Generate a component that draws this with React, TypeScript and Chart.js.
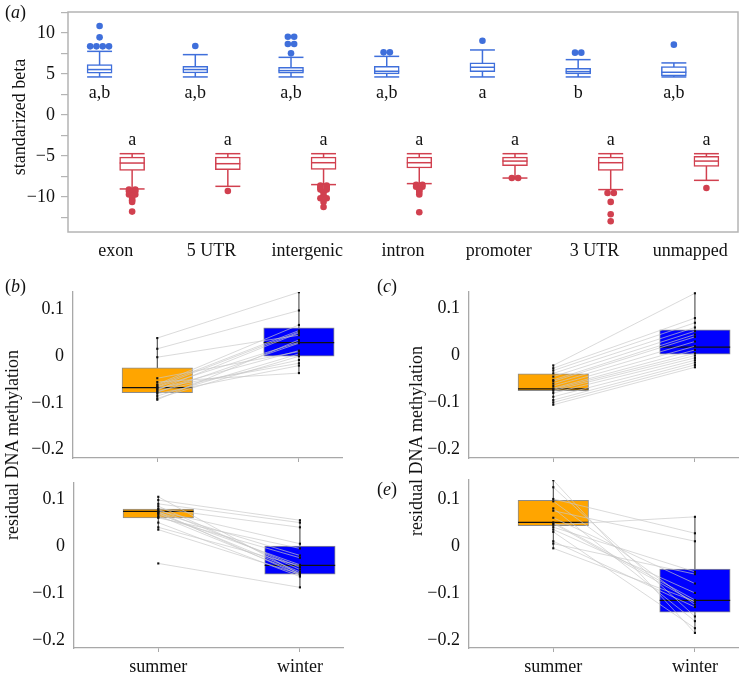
import React, { useEffect, useRef } from 'react';
import { Chart, registerables } from 'chart.js';

Chart.register(...registerables);

const FONT = '"Liberation Serif", "Times New Roman", serif';
const TEXT = '#111111';

// ---------- Panel (a) data ----------
const regions = ['exon', '5 UTR', 'intergenic', 'intron', 'promoter', '3 UTR', 'unmapped'];
const yTicksA = [-12.5, -10, -7.5, -5, -2.5, 0, 2.5, 5, 7.5, 10, 12.5];
// [lower whisker, q1, median, q3, upper whisker]
const blueStats = [
  [4.64, 5.09, 5.54, 6.14, 7.76],
  [4.64, 5.13, 5.54, 5.94, 7.36],
  [4.64, 5.09, 5.41, 5.82, 7.03],
  [4.64, 5.01, 5.33, 5.94, 7.15],
  [4.64, 5.29, 5.82, 6.35, 7.93],
  [4.64, 5.01, 5.29, 5.7, 6.75],
  [4.64, 4.77, 5.21, 5.9, 6.35],
];
const redStats = [
  [-9.02, -6.75, -5.86, -5.13, -4.72],
  [-8.7, -6.67, -5.94, -5.13, -4.72],
  [-8.49, -6.63, -5.82, -5.13, -4.72],
  [-8.37, -6.47, -5.82, -5.13, -4.72],
  [-7.69, -6.18, -5.62, -5.13, -4.72],
  [-9.1, -6.75, -5.82, -5.13, -4.72],
  [-7.97, -6.27, -5.62, -5.05, -4.72],
];
const blueOutliers = [
  [10.85, 9.47, 8.37, 8.37, 8.37, 8.37],
  [8.42],
  [9.55, 9.55, 8.66, 8.66, 7.52],
  [7.64, 7.64],
  [9.06],
  [7.6, 7.6],
  [8.58],
];
const redOutliers = [
  [-9.1, -9.1, -9.3, -9.3, -9.5, -9.7, -9.7, -9.9, -10.2, -10.4, -10.6, -11.78],
  [-9.27],
  [-8.6, -8.6, -8.85, -8.85, -9.1, -9.1, -9.4, -9.8, -10.15, -10.15, -10.6, -11.22],
  [-8.5, -8.5, -8.75, -8.75, -9.0, -9.2, -9.4, -9.7, -11.86],
  [-7.69, -7.69],
  [-9.51, -9.51, -10.6, -12.1, -12.96],
  [-8.9],
];
const blueLetters = ['a,b', 'a,b', 'a,b', 'a,b', 'a', 'b', 'a,b'];
const redLetters = ['a', 'a', 'a', 'a', 'a', 'a', 'a'];

// ---------- Panels (b)-(e) data ----------
const seasons = ['summer', 'winter'];
const yTicksLow = [-0.2, -0.1, 0, 0.1];

const summerB = [0.039, 0.016, -0.002, -0.047, -0.055, -0.06, -0.062, -0.065, -0.066, -0.068, -0.07, -0.072, -0.075, -0.077, -0.08, -0.085, -0.09, -0.093];
const winterB = [0.137, 0.098, 0.045, 0.01, -0.036, 0.067, 0.055, 0.052, 0.03, -0.015, 0.012, 0.05, -0.008, 0.028, -0.02, 0.005, 0.0, 0.035];
const boxSummerB = [-0.093, -0.078, -0.067, -0.025, 0.039];
const boxWinterB = [-0.036, 0.0, 0.029, 0.061, 0.137];

const summerC = [-0.021, -0.027, -0.032, -0.038, -0.045, -0.052, -0.055, -0.06, -0.065, -0.07, -0.072, -0.075, -0.08, -0.088, -0.095, -0.1, -0.105];
const winterC = [0.133, 0.08, 0.07, 0.06, 0.052, 0.045, 0.04, 0.03, 0.02, 0.012, 0.005, 0.0, -0.005, -0.01, -0.015, -0.02, -0.025];
const boxSummerC = [-0.105, -0.075, -0.071, -0.039, -0.021];
const boxWinterC = [-0.025, 0.003, 0.018, 0.055, 0.133];

const summerD = [0.105, 0.098, 0.09, 0.085, 0.08, 0.078, 0.075, 0.073, 0.072, 0.07, 0.068, 0.065, 0.062, 0.06, 0.05, 0.04, 0.035, -0.037];
const winterD = [-0.06, 0.055, 0.05, -0.05, 0.04, -0.045, 0.005, -0.062, -0.02, -0.055, -0.04, -0.058, -0.025, -0.005, -0.065, -0.042, -0.06, -0.088];
const boxSummerD = [0.035, 0.06, 0.074, 0.079, 0.105];
const boxWinterD = [-0.088, -0.06, -0.041, 0.0, 0.055];

const summerE = [0.14, 0.125, 0.1, 0.095, 0.08, 0.075, 0.06, 0.05, 0.048, 0.045, 0.04, 0.035, 0.03, 0.01, 0.005, -0.005];
const winterE = [-0.185, -0.15, 0.027, -0.125, -0.16, 0.01, -0.08, -0.115, -0.12, 0.062, -0.055, -0.1, -0.175, -0.13, -0.06, -0.118];
const boxSummerE = [-0.005, 0.043, 0.05, 0.097, 0.14];
const boxWinterE = [-0.186, -0.141, -0.116, -0.049, 0.062];

// ---------- styling ----------
const BLUE = '#3f6fdb';
const RED = '#d1404f';
const AXIS_GRAY = '#a8a8a8';
const ORANGE = '#ffa500';
const DEEP_BLUE = '#0000ff';

const fmt = (v: number) => {
  const r = Math.round(v * 1000) / 1000;
  return r < 0 ? '\u2212' + String(Math.abs(r)) : String(r);
};

function seg(p1: number[], p2: number[], color: string, width: number, order: number) {
  return {
    type: 'line',
    data: [{ x: p1[0], y: p1[1] }, { x: p2[0], y: p2[1] }],
    borderColor: color,
    borderWidth: width,
    pointRadius: 0,
    pointHoverRadius: 0,
    tension: 0,
    fill: false,
    order,
  };
}

function dodge(lists: number[][], off: number, step: number) {
  const pts: { x: number; y: number }[] = [];
  lists.forEach((vals, i) => {
    const counts = new Map<number, number>();
    vals.forEach((v) => counts.set(v, (counts.get(v) || 0) + 1));
    const seen = new Map<number, number>();
    vals.forEach((v) => {
      const n = counts.get(v)!;
      const k = seen.get(v) || 0;
      seen.set(v, k + 1);
      pts.push({ x: i + off + (k - (n - 1) / 2) * step, y: v });
    });
  });
  return pts;
}

// ---------- Panel (a) config ----------
const A = { w: 742, h: 272, left: 68, top: 12, right: 2, bottom: 232 };
const A_XMIN = -0.5;
const A_XMAX = 6.5;
const A_PX = (A.w - A.left - A.right) / (A_XMAX - A_XMIN);
const A_BOX = 25;
const A_HW = A_BOX / 2 / A_PX;
const A_OFF = 0.17;

function buildA(): any {
  const datasets: any[] = [];
  const pushBox = (cx: number, st: number[], color: string) => {
    datasets.push(seg([cx, st[0]], [cx, st[4]], color, 1.5, 6));
    datasets.push({
      type: 'bar',
      data: [{ x: cx, y: [st[1], st[3]] }],
      backgroundColor: '#ffffff',
      borderColor: color,
      borderWidth: 1.5,
      borderSkipped: false,
      barThickness: A_BOX,
      grouped: false,
      order: 5,
    });
    datasets.push(seg([cx - A_HW, st[0]], [cx + A_HW, st[0]], color, 1.5, 3));
    datasets.push(seg([cx - A_HW, st[4]], [cx + A_HW, st[4]], color, 1.5, 3));
    datasets.push(seg([cx - A_HW, st[2]], [cx + A_HW, st[2]], color, 1.5, 3));
  };
  regions.forEach((_, i) => {
    pushBox(i - A_OFF, blueStats[i], BLUE);
    pushBox(i + A_OFF, redStats[i], RED);
  });
  const step = 6.3 / A_PX;
  datasets.push({
    type: 'scatter',
    data: dodge(blueOutliers, -A_OFF, step),
    backgroundColor: BLUE,
    borderWidth: 0,
    pointRadius: 3.3,
    order: 1,
  });
  datasets.push({
    type: 'scatter',
    data: dodge(redOutliers, A_OFF, step),
    backgroundColor: RED,
    borderWidth: 0,
    pointRadius: 3.3,
    order: 1,
  });

  const framePlugin = {
    id: 'frameA',
    afterDatasetsDraw(chart: any) {
      const { ctx, chartArea: ca, scales } = chart;
      ctx.save();
      ctx.strokeStyle = '#b4b4b4';
      ctx.lineWidth = 1.5;
      ctx.strokeRect(ca.left, ca.top, ca.right - ca.left, ca.bottom - ca.top);
      ctx.fillStyle = TEXT;
      ctx.font = `18px ${FONT}`;
      ctx.textAlign = 'center';
      ctx.textBaseline = 'alphabetic';
      regions.forEach((_, i) => {
        ctx.fillText(blueLetters[i], scales.x.getPixelForValue(i - A_OFF), scales.y.getPixelForValue(2.05));
        ctx.fillText(redLetters[i], scales.x.getPixelForValue(i + A_OFF), scales.y.getPixelForValue(-3.7));
      });
      ctx.restore();
    },
  };

  return {
    type: 'scatter',
    data: { datasets },
    plugins: [framePlugin],
    options: {
      animation: false,
      responsive: false,
      events: [],
      layout: { padding: { top: A.top, right: A.right, left: 0, bottom: 0 } },
      plugins: { legend: { display: false }, tooltip: { enabled: false } },
      scales: {
        x: {
          type: 'linear',
          min: A_XMIN,
          max: A_XMAX,
          offset: false,
          grid: { display: false, drawTicks: false, offset: false },
          border: { display: false },
          afterBuildTicks: (s: any) => {
            s.ticks = regions.map((_, i) => ({ value: i }));
          },
          afterFit: (s: any) => {
            s.height = A.h - A.bottom;
            s.paddingLeft = 0;
            s.paddingRight = 0;
          },
          ticks: {
            autoSkip: false,
            maxRotation: 0,
            padding: 8,
            color: TEXT,
            font: { family: FONT, size: 18 },
            callback: (v: any) => regions[Math.round(Number(v))] ?? '',
          },
        },
        y: {
          type: 'linear',
          min: -14.27,
          max: 12.56,
          grid: { display: true, drawOnChartArea: false, drawTicks: true, tickLength: 7, color: '#b4b4b4', lineWidth: 1.2 },
          border: { display: false },
          afterBuildTicks: (s: any) => {
            s.ticks = yTicksA.map((v) => ({ value: v }));
          },
          afterFit: (s: any) => {
            s.width = A.left;
            s.paddingTop = 0;
            s.paddingBottom = 0;
          },
          ticks: {
            autoSkip: false,
            padding: 6,
            color: TEXT,
            font: { family: FONT, size: 18 },
            callback: (v: any) => (Number(v) % 5 === 0 ? fmt(Number(v)) : ''),
          },
        },
      },
    },
  };
}

// ---------- lower panels config ----------
const LOW_XMIN = 0.405;
const LOW_XMAX = 2.304;
const LOW_AREA_W = 269;
const LOW_PX = LOW_AREA_W / (LOW_XMAX - LOW_XMIN);
const LOW_BOX = 70.5;
const LOW_HW = LOW_BOX / 2 / LOW_PX;

type LowSpec = {
  w: number;
  h: number;
  left: number;
  top: number;
  bottom: number;
  ymin: number;
  ymax: number;
  summer: number[];
  winter: number[];
  boxS: number[];
  boxW: number[];
  labels: boolean;
};

function buildLow(p: LowSpec): any {
  const datasets: any[] = [];
  const pushBox = (cx: number, st: number[], fill: string) => {
    datasets.push(seg([cx, st[0]], [cx, st[4]], '#3a3a3a', 1, 6));
    datasets.push({
      type: 'bar',
      data: [{ x: cx, y: [st[1], st[3]] }],
      backgroundColor: fill,
      borderColor: '#8c8c8c',
      borderWidth: 1,
      borderSkipped: false,
      barThickness: LOW_BOX,
      grouped: false,
      order: 5,
    });
    datasets.push(seg([cx - LOW_HW, st[2]], [cx + LOW_HW, st[2]], '#111111', 1.3, 4));
  };
  pushBox(1, p.boxS, ORANGE);
  pushBox(2, p.boxW, DEEP_BLUE);
  p.summer.forEach((s, i) => {
    datasets.push(seg([1, s], [2, p.winter[i]], 'rgba(200,200,200,0.85)', 0.8, 2));
  });
  datasets.push({
    type: 'scatter',
    data: [
      ...p.summer.map((v) => ({ x: 1, y: v })),
      ...p.winter.map((v) => ({ x: 2, y: v })),
    ],
    pointStyle: 'rect',
    pointRadius: 1.5,
    backgroundColor: '#111111',
    borderWidth: 0,
    order: 1,
  });

  return {
    type: 'scatter',
    data: { datasets },
    options: {
      animation: false,
      responsive: false,
      events: [],
      layout: { padding: { top: p.top, right: p.w - p.left - LOW_AREA_W, left: 0, bottom: 0 } },
      plugins: { legend: { display: false }, tooltip: { enabled: false } },
      scales: {
        x: {
          type: 'linear',
          min: LOW_XMIN,
          max: LOW_XMAX,
          offset: false,
          grid: { display: true, drawOnChartArea: false, drawTicks: true, tickLength: 4, color: AXIS_GRAY, offset: false },
          border: { display: true, color: AXIS_GRAY, width: 1.3 },
          afterBuildTicks: (s: any) => {
            s.ticks = seasons.map((_, i) => ({ value: i + 1 }));
          },
          afterFit: (s: any) => {
            s.height = p.h - p.bottom;
            s.paddingLeft = 0;
            s.paddingRight = 0;
          },
          ticks: {
            autoSkip: false,
            maxRotation: 0,
            padding: 4,
            color: TEXT,
            font: { family: FONT, size: 18 },
            callback: (v: any) => (p.labels ? seasons[Math.round(Number(v)) - 1] ?? '' : ''),
          },
        },
        y: {
          type: 'linear',
          min: p.ymin,
          max: p.ymax,
          grid: { display: false, drawTicks: false },
          border: { display: true, color: AXIS_GRAY, width: 1.3 },
          afterBuildTicks: (s: any) => {
            s.ticks = yTicksLow.map((v) => ({ value: v }));
          },
          afterFit: (s: any) => {
            s.width = p.left;
            s.paddingTop = 0;
            s.paddingBottom = 0;
          },
          ticks: {
            autoSkip: false,
            padding: 9,
            color: TEXT,
            font: { family: FONT, size: 18 },
            callback: (v: any) => fmt(Number(v)),
          },
        },
      },
    },
  };
}

function ChartCanvas({ x, y, w, h, build }: { x: number; y: number; w: number; h: number; build: () => any }) {
  const ref = useRef<HTMLCanvasElement>(null);
  useEffect(() => {
    const chart = new Chart(ref.current as HTMLCanvasElement, build());
    return () => chart.destroy();
  }, []);
  return (
    <div style={{ position: 'absolute', left: x, top: y, width: w, height: h }}>
      <canvas ref={ref} width={w} height={h} style={{ width: w, height: h, display: 'block' }} />
    </div>
  );
}

const labelStyle: React.CSSProperties = {
  position: 'absolute',
  fontFamily: FONT,
  fontSize: 18,
  lineHeight: '18px',
  color: TEXT,
  whiteSpace: 'nowrap',
};

function VLabel({ cx, cy, text }: { cx: number; cy: number; text: string }) {
  return (
    <div
      style={{
        ...labelStyle,
        left: cx,
        top: cy,
        transform: 'translate(-50%, -50%) rotate(-90deg)',
      }}
    >
      {text}
    </div>
  );
}

function PanelTag({ x, y, letter }: { x: number; y: number; letter: string }) {
  return (
    <div style={{ ...labelStyle, left: x, top: y }}>
      (<i>{letter}</i>)
    </div>
  );
}

export default function App() {
  return (
    <div
      style={{
        position: 'fixed',
        left: 0,
        top: 0,
        width: 742,
        height: 676,
        background: '#ffffff',
        overflow: 'hidden',
      }}
    >
      <ChartCanvas x={0} y={0} w={A.w} h={A.h} build={buildA} />
      <ChartCanvas
        x={0}
        y={280}
        w={371}
        h={196}
        build={() =>
          buildLow({ w: 371, h: 196, left: 73, top: 12, bottom: 178, ymin: -0.2177, ymax: 0.1375, summer: summerB, winter: winterB, boxS: boxSummerB, boxW: boxWinterB, labels: false })
        }
      />
      <ChartCanvas
        x={371}
        y={280}
        w={371}
        h={196}
        build={() =>
          buildLow({ w: 371, h: 196, left: 98, top: 12, bottom: 178, ymin: -0.2187, ymax: 0.1357, summer: summerC, winter: winterC, boxS: boxSummerC, boxW: boxWinterC, labels: false })
        }
      />
      <ChartCanvas
        x={0}
        y={470}
        w={371}
        h={206}
        build={() =>
          buildLow({ w: 371, h: 206, left: 74, top: 13, bottom: 178, ymin: -0.2172, ymax: 0.1344, summer: summerD, winter: winterD, boxS: boxSummerD, boxW: boxWinterD, labels: true })
        }
      />
      <ChartCanvas
        x={371}
        y={470}
        w={371}
        h={206}
        build={() =>
          buildLow({ w: 371, h: 206, left: 98, top: 10, bottom: 178, ymin: -0.2172, ymax: 0.1404, summer: summerE, winter: winterE, boxS: boxSummerE, boxW: boxWinterE, labels: true })
        }
      />
      <VLabel cx={19} cy={117} text="standarized beta" />
      <VLabel cx={12} cy={445} text="residual DNA methylation" />
      <VLabel cx={416} cy={441} text="residual DNA methylation" />
      <PanelTag x={5} y={3} letter="a" />
      <PanelTag x={5} y={277} letter="b" />
      <PanelTag x={377} y={277} letter="c" />
      <PanelTag x={377} y={480} letter="e" />
    </div>
  );
}
